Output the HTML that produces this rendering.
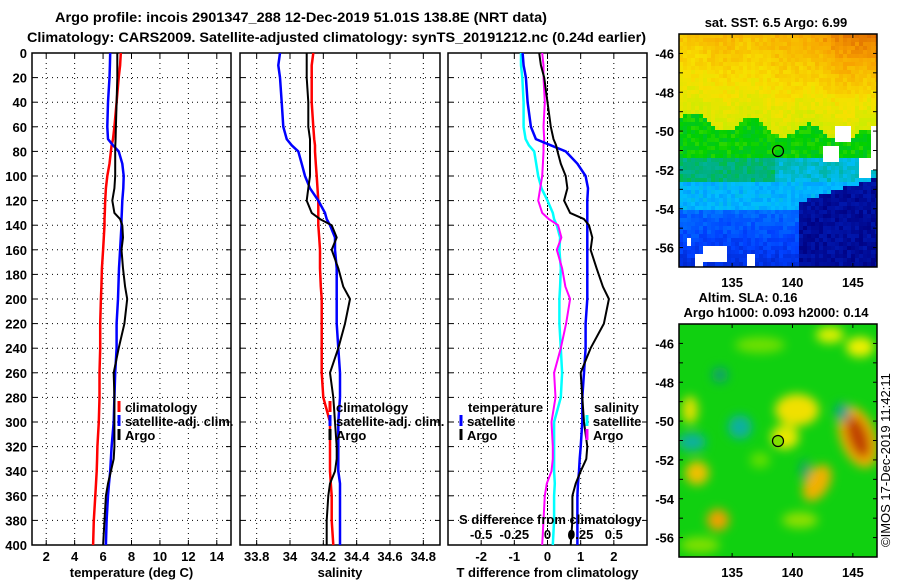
<!DOCTYPE html>
<html><head><meta charset="utf-8"><style>
html,body{margin:0;padding:0;background:#fff;}
svg{display:block;font-family:"Liberation Sans",Arial,sans-serif;font-weight:bold;}
</style></head><body>
<svg id="chart" width="900" height="580" viewBox="0 0 900 580" xmlns="http://www.w3.org/2000/svg">
<defs>
<clipPath id="c1"><rect x="679" y="34" width="198" height="233"/></clipPath>
<clipPath id="c2"><rect x="679" y="324" width="198" height="233"/></clipPath>
<filter id="bl" x="-50%" y="-50%" width="200%" height="200%"><feGaussianBlur stdDeviation="5"/></filter>
</defs>
<text x="55" y="22" font-size="14" textLength="492" lengthAdjust="spacingAndGlyphs">Argo profile: incois 2901347_288 12-Dec-2019 51.01S 138.8E (NRT data)</text>
<text x="27" y="42" font-size="14" textLength="619" lengthAdjust="spacingAndGlyphs">Climatology: CARS2009. Satellite-adjusted climatology: synTS_20191212.nc (0.24d earlier)</text>
<g id="panels"></g>

<g>
<text x="776" y="27" font-size="13" text-anchor="middle">sat. SST: 6.5 Argo: 6.99</text>
<g id="sstcells" clip-path="url(#c1)"></g>
<rect x="679" y="34" width="198" height="233" fill="none" stroke="#000" stroke-width="1.5"/>
<circle cx="778" cy="151" r="5.5" fill="none" stroke="#000" stroke-width="1.2"/>
</g>

<g>
<text x="748" y="302" font-size="13" text-anchor="middle">Altim. SLA: 0.16</text>
<text x="776" y="317" font-size="13" text-anchor="middle">Argo h1000: 0.093 h2000: 0.14</text>
<g clip-path="url(#c2)">
<rect x="679" y="324" width="198" height="233" fill="#10d010"/>
<g filter="url(#bl)">
<ellipse cx="797" cy="410" rx="22" ry="16" fill="#f0e000"/>
<ellipse cx="785" cy="437" rx="14" ry="12" fill="#e8e800"/>
<ellipse cx="858" cy="437" rx="18" ry="32" fill="#f0b000" transform="rotate(-20 858 437)"/>
<ellipse cx="858" cy="437" rx="10" ry="22" fill="#c04000" transform="rotate(-20 858 437)"/>
<ellipse cx="817" cy="483" rx="12" ry="20" fill="#f0b000" transform="rotate(30 817 483)"/>
<ellipse cx="718" cy="520" rx="11" ry="11" fill="#f0a000"/>
<ellipse cx="697" cy="473" rx="12" ry="12" fill="#f0c000"/>
<ellipse cx="740" cy="427" rx="12" ry="12" fill="#10b0a0"/>
<ellipse cx="692" cy="442" rx="14" ry="9" fill="#10b0a0"/>
<ellipse cx="842" cy="412" rx="7" ry="9" fill="#10a090"/>
<ellipse cx="860" cy="347" rx="14" ry="10" fill="#f0f000"/>
<ellipse cx="830" cy="335" rx="14" ry="8" fill="#e0f000"/>
<ellipse cx="690" cy="410" rx="8" ry="14" fill="#e0e000"/>
<ellipse cx="760" cy="460" rx="10" ry="8" fill="#60e000"/>
<ellipse cx="800" cy="520" rx="18" ry="8" fill="#90e000"/>
<ellipse cx="720" cy="375" rx="8" ry="8" fill="#10a070"/>
<ellipse cx="805" cy="470" rx="5" ry="10" fill="#10a070"/>
<ellipse cx="700" cy="545" rx="20" ry="8" fill="#80e000"/>
<ellipse cx="760" cy="345" rx="25" ry="8" fill="#70e000"/>
</g>
</g>
<rect x="679" y="324" width="198" height="233" fill="none" stroke="#000" stroke-width="1.5"/>
<circle cx="778" cy="441" r="5.5" fill="#80e000" stroke="#000" stroke-width="1.2"/>
</g>
<text x="0" y="0" font-size="13" font-weight="normal" transform="translate(890,547) rotate(-90)">©IMOS 17-Dec-2019 11:42:11</text>
<g id="maps-axes"></g>
</svg>
<script>
// ---- data ----
const depths = [0,10,20,40,60,70,75,80,90,100,110,120,130,135,140,150,160,175,190,200,220,240,260,280,300,320,330,340,350,360,380,400];
const tempClim = [7.25,7.2,7.1,6.95,6.8,6.7,6.6,6.55,6.45,6.3,6.2,6.15,6.12,6.1,6.1,6.05,6.0,5.92,5.88,5.85,5.8,5.8,5.75,5.75,5.7,5.6,5.58,5.55,5.5,5.45,5.35,5.3];
const tempSat = [6.5,6.48,6.45,6.35,6.3,6.35,6.7,7.1,7.35,7.45,7.42,7.35,7.32,7.3,7.3,7.25,7.2,7.12,7.08,7.05,6.95,6.95,6.85,6.8,6.75,6.6,6.55,6.5,6.42,6.35,6.25,6.2];
const tempArgo = [7.0,7.0,7.0,6.95,6.9,6.88,6.86,6.85,6.85,6.85,6.8,6.65,6.8,7.2,7.35,7.4,7.3,7.4,7.55,7.7,7.5,7.1,6.75,6.8,6.8,6.8,6.75,6.55,6.35,6.2,6.1,6.0];
const salClim = [34.14,34.13,34.13,34.13,34.14,34.145,34.15,34.15,34.155,34.16,34.165,34.17,34.17,34.17,34.17,34.175,34.18,34.18,34.185,34.19,34.19,34.19,34.19,34.2,34.24,34.24,34.24,34.24,34.245,34.25,34.25,34.26];
const salSat = [33.94,33.93,33.94,33.95,33.96,33.98,34.01,34.05,34.07,34.09,34.12,34.17,34.21,34.22,34.24,34.27,34.27,34.28,34.28,34.28,34.28,34.29,34.30,34.30,34.29,34.29,34.29,34.29,34.30,34.30,34.30,34.30];
const salArgo = [34.10,34.10,34.10,34.11,34.11,34.12,34.12,34.12,34.12,34.12,34.11,34.10,34.13,34.18,34.25,34.28,34.25,34.29,34.32,34.36,34.33,34.29,34.24,34.26,34.27,34.28,34.28,34.27,34.24,34.23,34.22,34.22];
const depthTicks = [0,20,40,60,80,100,120,140,160,180,200,220,240,260,280,300,320,340,360,380,400];
const tempTicks = [2,4,6,8,10,12,14];
const salTicks = [33.8,34,34.2,34.4,34.6,34.8];
const salTickLabels = ["33.8","34","34.2","34.4","34.6","34.8"];
const diffTicks = [-2,-1,0,1,2];
const sDiffTicks = [-0.5,-0.25,0,0.25,0.5];
const sDiffLabels = ["-0.5","-0.25","0","0.25","0.5"];
const latTicks = [-46,-48,-50,-52,-54,-56];
const lonTicks = [135,140,145];

const NS = "http://www.w3.org/2000/svg";
const root = document.getElementById('panels');
function el(tag, attrs, parent, txt){
  const e = document.createElementNS(NS, tag);
  for (const k in attrs) e.setAttribute(k, attrs[k]);
  if (txt !== undefined) e.textContent = txt;
  (parent||root).appendChild(e);
  return e;
}
const Y0 = 53, Y1 = 545;
const yD = d => Y0 + (d/400)*(Y1-Y0);

function panel(name, x0, x1, vmin, vmax, ticks, labels, xlabel, showY){
  const g = el('g', {});
  
  
  const xs = v => x0 + (v - vmin)/(vmax - vmin)*(x1 - x0);
  depthTicks.forEach(d => {
    const ln = el('line', {x1:x0, x2:x1, y1:yD(d), y2:yD(d), stroke:'#000', 'stroke-width':1, 'stroke-dasharray':'1,4'}, g);
    
    
    el('line', {x1:x0, x2:x0+5, y1:yD(d), y2:yD(d), stroke:'#000'}, g);
    el('line', {x1:x1-5, x2:x1, y1:yD(d), y2:yD(d), stroke:'#000'}, g);
    if (showY){
      const t = el('text', {x:x0-5, y:yD(d)+5, 'font-size':13, 'text-anchor':'end'}, g, String(d));
      
      
    }
  });
  ticks.forEach((v,i) => {
    const ln = el('line', {x1:xs(v), x2:xs(v), y1:Y0, y2:Y1, stroke:'#000', 'stroke-width':1, 'stroke-dasharray':'1,4'}, g);
    
    
    el('line', {x1:xs(v), x2:xs(v), y1:Y0, y2:Y0+5, stroke:'#000'}, g);
    el('line', {x1:xs(v), x2:xs(v), y1:Y1-5, y2:Y1, stroke:'#000'}, g);
    const t = el('text', {x:xs(v), y:561, 'font-size':13, 'text-anchor':'middle'}, g, labels[i]);
    
    
  });
  const b = el('rect', {x:x0, y:Y0, width:x1-x0, height:Y1-Y0, fill:'none', stroke:'#000', 'stroke-width':1.5}, g);
  
  
  const xl = el('text', {x:(x0+x1)/2, y:577, 'font-size':13, 'text-anchor':'middle'}, g, xlabel);
  
  
  return {g, xs};
}
function line(p, vals, color, w, name){
  const pts = vals.map((v,i) => p.xs(v).toFixed(1)+','+yD(depths[i]).toFixed(1)).join(' ');
  const pl = el('polyline', {points:pts, fill:'none', stroke:color, 'stroke-width':w, 'stroke-linejoin':'round'}, p.g);
  
  
}
function legend(g, x, y, color, label, name){
  const m = el('line', {x1:x, x2:x, y1:y-11, y2:y, stroke:color, 'stroke-width':3}, g);
  
  
  const t = el('text', {x:x+6, y:y, 'font-size':13}, g, label);
  
  
}

const pT = panel('temperature-panel', 32, 231, 1, 15, tempTicks, tempTicks.map(String), 'temperature (deg C)', true);
line(pT, tempClim, '#ff0000', 2.5, 'temp-climatology-line');
line(pT, tempSat, '#0000ff', 2.5, 'temp-satellite-line');
line(pT, tempArgo, '#000000', 2, 'temp-argo-line');
legend(pT.g, 119, 412, '#ff0000', 'climatology', 'legend-climatology');
legend(pT.g, 119, 426, '#0000ff', 'satellite-adj. clim.', 'legend-satellite');
legend(pT.g, 119, 440, '#000000', 'Argo', 'legend-argo');

const pS = panel('salinity-panel', 240, 440, 33.7, 34.9, salTicks, salTickLabels, 'salinity', false);
line(pS, salClim, '#ff0000', 2.5, 'sal-climatology-line');
line(pS, salSat, '#0000ff', 2.5, 'sal-satellite-line');
line(pS, salArgo, '#000000', 2, 'sal-argo-line');
legend(pS.g, 330, 412, '#ff0000', 'climatology', 'legend-climatology');
legend(pS.g, 330, 426, '#0000ff', 'satellite-adj. clim.', 'legend-satellite');
legend(pS.g, 330, 440, '#000000', 'Argo', 'legend-argo');

const pD = panel('difference-panel', 448, 647, -3, 3, diffTicks, diffTicks.map(String), 'T difference from climatology', false);
const zl = el('line', {x1:pD.xs(0), x2:pD.xs(0), y1:Y0, y2:Y1, stroke:'#000', 'stroke-dasharray':'2,2'}, pD.g);


line(pD, salSat.map((v,i)=>(v-salClim[i])*4), '#00ffff', 2.5, 'sdiff-satellite-line');
line(pD, salArgo.map((v,i)=>(v-salClim[i])*4), '#ff00ff', 2, 'sdiff-argo-line');
line(pD, tempSat.map((v,i)=>v-tempClim[i]), '#0000ff', 2.5, 'tdiff-satellite-line');
line(pD, tempArgo.map((v,i)=>v-tempClim[i]), '#000000', 2, 'tdiff-argo-line');
const lt = el('text', {x:468, y:412, 'font-size':13}, pD.g, 'temperature');


legend(pD.g, 461, 426, '#0000ff', 'satellite', 'legend-t-satellite');
legend(pD.g, 461, 440, '#000000', 'Argo', 'legend-t-argo');
const ls = el('text', {x:594, y:412, 'font-size':13}, pD.g, 'salinity');


legend(pD.g, 587, 426, '#00ffff', 'satellite', 'legend-s-satellite');
legend(pD.g, 587, 440, '#ff00ff', 'Argo', 'legend-s-argo');
const st = el('text', {x:459, y:524, 'font-size':13}, pD.g, 'S difference from climatology');


sDiffTicks.forEach((v,i) => {
  const t = el('text', {x:pD.xs(v*4), y:539, 'font-size':13, 'text-anchor':'middle'}, pD.g, sDiffLabels[i]);
  
  
});
const dot = el('ellipse', {cx:571, cy:535, rx:3, ry:5, fill:'#000'}, pD.g);



// ---- SST map pixel texture (decorative image) ----
const cm = [[0,[0,0,128]],[0.15,[0,64,255]],[0.3,[0,190,255]],[0.38,[0,176,128]],[0.46,[0,208,0]],[0.56,[190,240,0]],[0.66,[248,224,0]],[0.78,[248,160,0]],[0.9,[208,80,0]],[1,[160,0,0]]];
function cmap(t){
  t=Math.max(0,Math.min(1,t));
  for(let i=1;i<cm.length;i++){ if(t<=cm[i][0]){ const a=cm[i-1],b=cm[i],f=(t-a[0])/(b[0]-a[0]);
    return 'rgb('+a[1].map((c,k)=>Math.round(c+(b[1][k]-c)*f)).join(',')+')'; } }
  return 'rgb(160,0,0)';
}
function hash(i,j){ const s=Math.sin(i*127.1+j*311.7)*43758.5453; return s-Math.floor(s); }
const sg = document.getElementById('sstcells');
const CS = 4;
for (let j=0; j<59; j++){
  for (let i=0; i<50; i++){
    const x = 679+i*CS, y = 34+j*CS;
    const lon = 130.6 + (x-679)/12.07, lat = -45 - (y-34)/19.42;
    let t;
    const front = -49.3 - 0.06*(lon-131) + 0.4*Math.sin(lon*1.3);
    if (lat > front) t = 0.6 + 0.028*(lat-front) + 0.12*Math.max(0,(lon-139)/8)*Math.max(0,(lat+48.5)/3.5);
    else if (lat > -51.2) t = 0.46;
    else if (lat > -52.6) t = (lon < 138.5) ? 0.39 : 0.33;
    else if (lat > -54) t = 0.29;
    else t = 0.2 - 0.03*(-54-lat);
    if (lon > 140.3 && lat < -53.6 + (lon-140.3)*0.2) t = 0.03;
    t += (hash(i,j)-0.5)*0.05;
    let fill = cmap(t);
    if ((lon>142.5&&lon<143.8&&lat>-51.5&&lat<-50.7)||(lon>145.2&&lon<146.5&&lat>-52.3&&lat<-51.2)||(lon>146.2&&lat>-52&&lat<-49.7)||(lon>143.5&&lon<144.7&&lat>-50.4&&lat<-49.7)||
        (lon>132.5&&lon<134.5&&lat>-56.6&&lat<-55.9)||(lon>131.8&&lon<132.3&&lat>-57&&lat<-56.3)||(lon>136.2&&lon<136.8&&lat>-56.8&&lat<-56.2)||(lon>131.1&&lon<131.5&&lat>-55.8&&lat<-55.4)) fill='#fff';
    el('rect', {x:x, y:y, width:CS, height:CS, fill:fill}, sg);
  }
}

const ma = document.getElementById('maps-axes');
function mapAxes(top, name){
  const g = el('g', {}, ma);
  
  
  const lat = v => top + (-45 - v)*(233/12);
  const lon = v => 679 + (v - 130.6)*(198/16.4);
  for (let v=-46; v>=-57; v--){
    el('line', {x1:679, x2:683, y1:lat(v), y2:lat(v), stroke:'#000'}, g);
    el('line', {x1:873, x2:877, y1:lat(v), y2:lat(v), stroke:'#000'}, g);
  }
  latTicks.forEach(v => {
    const t = el('text', {x:674, y:lat(v)+5, 'font-size':13, 'text-anchor':'end'}, g, String(v));
    
    
  });
  lonTicks.forEach(v => {
    el('line', {x1:lon(v), x2:lon(v), y1:top, y2:top+4, stroke:'#000'}, g);
    el('line', {x1:lon(v), x2:lon(v), y1:top+229, y2:top+233, stroke:'#000'}, g);
    const t = el('text', {x:lon(v), y:top+253, 'font-size':13, 'text-anchor':'middle'}, g, String(v));
    
    
  });
}
mapAxes(34, 'sst-map-axes');
mapAxes(324, 'sla-map-axes');
</script>
</body></html>
